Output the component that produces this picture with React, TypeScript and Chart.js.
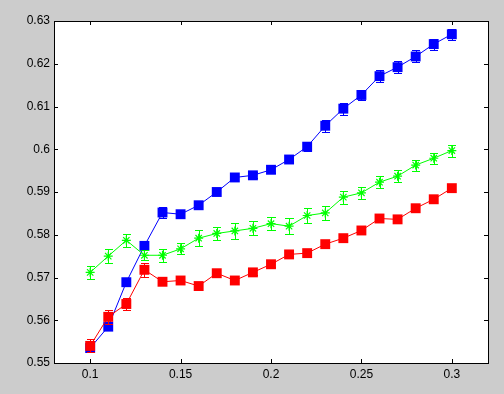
import React, { useEffect, useRef } from "react";
import { Chart, registerables } from "chart.js";

Chart.register(...registerables);

const xValues = [0.1, 0.11, 0.12, 0.13, 0.14, 0.15, 0.16, 0.17, 0.18, 0.19, 0.2, 0.21, 0.22, 0.23, 0.24, 0.25, 0.26, 0.27, 0.28, 0.29, 0.3];

const blueValues = [0.5535, 0.5585, 0.5689, 0.5774, 0.5852, 0.5848, 0.5869, 0.59, 0.5934, 0.5939, 0.5952, 0.5976, 0.6006, 0.6055, 0.6095, 0.6127, 0.6171, 0.6192, 0.6217, 0.6246, 0.6269];
const blueErrors = [0.0006, 0.0008, 0.0006, 0.0007, 0.0013, 0.0008, 0.0008, 0.0007, 0.0008, 0.0007, 0.0008, 0.0009, 0.0009, 0.0014, 0.0014, 0.0012, 0.0014, 0.0014, 0.0014, 0.0013, 0.0013];

const greenValues = [0.5712, 0.575, 0.5787, 0.5752, 0.5752, 0.5767, 0.5792, 0.5803, 0.5809, 0.5815, 0.5826, 0.582, 0.5845, 0.5851, 0.5888, 0.5898, 0.5923, 0.5937, 0.5963, 0.5979, 0.5997];
const greenErrors = [0.0015, 0.0016, 0.0015, 0.0012, 0.0015, 0.0013, 0.0018, 0.0016, 0.0018, 0.0016, 0.0015, 0.0019, 0.0018, 0.0016, 0.0015, 0.0014, 0.0014, 0.0014, 0.0013, 0.0013, 0.0014];

const redValues = [0.554, 0.5608, 0.5638, 0.5718, 0.569, 0.5693, 0.568, 0.571, 0.5693, 0.5712, 0.5731, 0.5754, 0.5757, 0.5778, 0.5792, 0.581, 0.5838, 0.5836, 0.5862, 0.5883, 0.5909];
const redErrors = [0.0015, 0.0017, 0.0015, 0.0016, 0.0006, 0.0006, 0.0006, 0.0006, 0.0006, 0.0006, 0.0006, 0.0006, 0.0006, 0.0006, 0.0006, 0.0006, 0.0006, 0.0006, 0.0006, 0.0006, 0.0006];

const xTicks = [0.1, 0.15, 0.2, 0.25, 0.3];
const yTicks = [0.55, 0.56, 0.57, 0.58, 0.59, 0.6, 0.61, 0.62, 0.63];
const xMin = 0.08;
const xMax = 0.32;
const yMin = 0.55;
const yMax = 0.63;
const capHalfWidth = 0.002;

const fmt = (v: number) => String(Number(v.toFixed(3)));

const errorMap: Record<string, number[]> = {
  red: redErrors,
  green: greenErrors,
  blue: blueErrors,
};

const errorBarPlugin = {
  id: "errorBars",
  beforeDatasetDraw(chart: any, args: any) {
    const ds = chart.data.datasets[args.index];
    const errs = errorMap[ds.label];
    if (!errs) return;
    const xs = chart.scales.x;
    const ys = chart.scales.y;
    const ctx = chart.ctx;
    ctx.save();
    ctx.strokeStyle = ds.borderColor;
    ctx.lineWidth = 1;
    ds.data.forEach((p: any, i: number) => {
      const e = errs[i];
      const px = Math.round(xs.getPixelForValue(p.x)) + 0.5;
      const yTop = Math.round(ys.getPixelForValue(p.y + e)) + 0.5;
      const yBot = Math.round(ys.getPixelForValue(p.y - e)) + 0.5;
      const xl = Math.round(xs.getPixelForValue(p.x - capHalfWidth));
      const xr = Math.round(xs.getPixelForValue(p.x + capHalfWidth)) + 1;
      ctx.beginPath();
      ctx.moveTo(px, yTop);
      ctx.lineTo(px, yBot);
      ctx.moveTo(xl, yTop);
      ctx.lineTo(xr, yTop);
      ctx.moveTo(xl, yBot);
      ctx.lineTo(xr, yBot);
      ctx.stroke();
    });
    ctx.restore();
  },
};

const frameBgPlugin = {
  id: "frameBg",
  beforeDraw(chart: any) {
    const { ctx, chartArea, width, height } = chart;
    ctx.save();
    ctx.fillStyle = "#cccccc";
    ctx.fillRect(0, 0, width, height);
    ctx.fillStyle = "#ffffff";
    ctx.fillRect(chartArea.left, chartArea.top, chartArea.right - chartArea.left, chartArea.bottom - chartArea.top);
    ctx.restore();
  },
  afterDraw(chart: any) {
    const { ctx, chartArea } = chart;
    const { left, right, top, bottom } = chartArea;
    const xs = chart.scales.x;
    const ys = chart.scales.y;
    const tl = 4;
    ctx.save();
    ctx.strokeStyle = "#000000";
    ctx.lineWidth = 1;
    ctx.strokeRect(Math.round(left) + 0.5, Math.round(top) + 0.5, Math.round(right - left), Math.round(bottom - top));
    ctx.beginPath();
    xTicks.forEach((v) => {
      const px = Math.round(xs.getPixelForValue(v)) + 0.5;
      ctx.moveTo(px, bottom);
      ctx.lineTo(px, bottom - tl);
      ctx.moveTo(px, top);
      ctx.lineTo(px, top + tl);
    });
    yTicks.forEach((v) => {
      const py = Math.round(ys.getPixelForValue(v)) + 0.5;
      ctx.moveTo(left, py);
      ctx.lineTo(left + tl, py);
      ctx.moveTo(right, py);
      ctx.lineTo(right - tl, py);
    });
    ctx.stroke();
    ctx.restore();
  },
};

const toPoints = (ys: number[]) => ys.map((y, i) => ({ x: xValues[i], y }));

export default function App() {
  const canvasRef = useRef<HTMLCanvasElement | null>(null);

  useEffect(() => {
    if (!canvasRef.current) return;
    const chart = new Chart(canvasRef.current, {
      type: "line",
      data: {
        datasets: [
          {
            label: "red",
            data: toPoints(redValues),
            borderColor: "#ff0000",
            backgroundColor: "#ff0000",
            borderWidth: 1,
            pointStyle: "rect",
            pointRadius: 7,
            pointBorderWidth: 0,
            pointBackgroundColor: "#ff0000",
            pointBorderColor: "#ff0000",
            tension: 0,
          },
          {
            label: "green",
            data: toPoints(greenValues),
            borderColor: "#00ff00",
            backgroundColor: "#00ff00",
            borderWidth: 1,
            pointStyle: "star",
            pointRadius: 4.5,
            pointBorderWidth: 1.2,
            pointBorderColor: "#00ff00",
            pointBackgroundColor: "#00ff00",
            tension: 0,
          },
          {
            label: "blue",
            data: toPoints(blueValues),
            borderColor: "#0000ff",
            backgroundColor: "#0000ff",
            borderWidth: 1,
            pointStyle: "rect",
            pointRadius: 7,
            pointBorderWidth: 0,
            pointBackgroundColor: "#0000ff",
            pointBorderColor: "#0000ff",
            tension: 0,
          },
        ],
      },
      options: {
        responsive: false,
        animation: false,
        devicePixelRatio: 1,
        layout: { padding: { left: 0, top: 21, right: 16, bottom: 0 } },
        plugins: {
          legend: { display: false },
          tooltip: { enabled: false },
        },
        font: { family: "Arial, 'Liberation Sans', sans-serif", size: 12 },
        scales: {
          x: {
            type: "linear",
            min: xMin,
            max: xMax,
            grid: { display: false, drawTicks: false },
            border: { display: false },
            afterBuildTicks: (scale: any) => {
              scale.ticks = xTicks.map((v) => ({ value: v }));
            },
            afterFit: (scale: any) => {
              scale.height = 31;
            },
            ticks: {
              padding: 4,
              color: "#000000",
              maxRotation: 0,
              autoSkip: false,
              font: { family: "Arial, 'Liberation Sans', sans-serif", size: 12 },
              callback: (v: any) => fmt(Number(v)),
            },
          },
          y: {
            type: "linear",
            min: yMin,
            max: yMax,
            grid: { display: false, drawTicks: false },
            border: { display: false },
            afterBuildTicks: (scale: any) => {
              scale.ticks = yTicks.map((v) => ({ value: v }));
            },
            afterFit: (scale: any) => {
              scale.width = 54;
            },
            ticks: {
              padding: 4,
              color: "#000000",
              autoSkip: false,
              font: { family: "Arial, 'Liberation Sans', sans-serif", size: 12 },
              callback: (v: any) => fmt(Number(v)),
            },
          },
        },
      } as any,
      plugins: [frameBgPlugin, errorBarPlugin],
    });
    return () => chart.destroy();
  }, []);

  return (
    <div style={{ position: "fixed", left: 0, top: 0, width: 504, height: 394, background: "#cccccc" }}>
      <canvas ref={canvasRef} width={504} height={394} style={{ display: "block", width: 504, height: 394 }} />
    </div>
  );
}
